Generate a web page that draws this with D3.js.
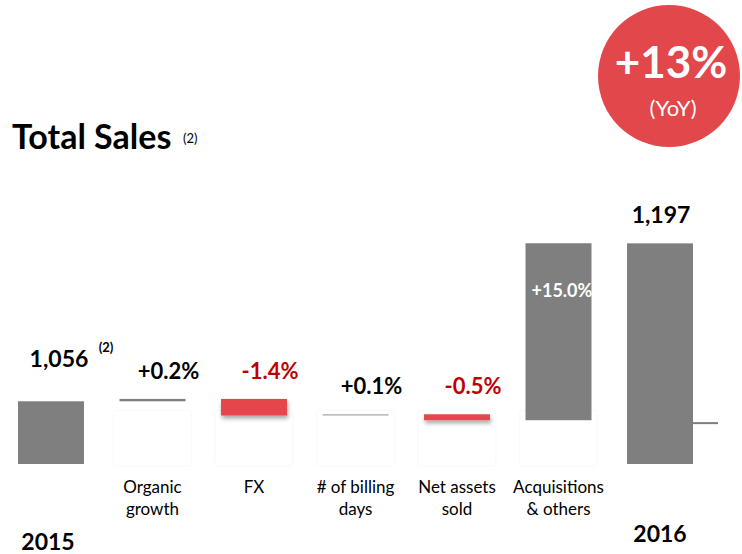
<!DOCTYPE html>
<html><head><meta charset="utf-8">
<script src="https://cdn.jsdelivr.net/npm/d3@7"></script>
<style>
html,body{margin:0;padding:0;background:#fff;}
svg{display:block;font-family:Lato,"Open Sans",sans-serif;}
</style></head>
<body>
<svg id="chart" width="742" height="554"></svg>
<script>
// ---- data ----
const categories = ["2015", "Organic growth", "FX", "# of billing days", "Net assets sold", "Acquisitions & others", "2016"];
const categoryLines = [[], ["Organic", "growth"], ["FX"], ["# of billing", "days"], ["Net assets", "sold"], ["Acquisitions", "& others"], []];
const startValue = 1056;
const endValue = 1197;
const deltas = [2.1, -14.8, 1.1, -5.3, 158.0];
const deltaLabels = ["+0.2%", "-1.4%", "+0.1%", "-0.5%", "+15.0%"];
const totalLabels = ["1,056", "1,197"];
const yearLabels = ["2015", "2016"];
const yoyLabel = "+13%";
const yDomain = [1000, 1200];

const svg = d3.select("#chart");
const gray = "#7f7f7f", red = "#e3474c", redText = "#c00000";

const x = d3.scaleBand().domain(categories).range([18, 693]).paddingInner(0.35).paddingOuter(0);
const y = d3.scaleLinear().domain(yDomain).range([464, 240]);

const defs = svg.append("defs");
const f = defs.append("filter").attr("id", "shadow").attr("x", "-20%").attr("y", "-50%").attr("width", "140%").attr("height", "250%");
f.append("feDropShadow").attr("dx", 1).attr("dy", 3).attr("stdDeviation", 2).attr("flood-color", "#000").attr("flood-opacity", 0.35);

// build waterfall steps
let running = startValue;
const steps = deltas.map((d, i) => {
  const s = {cat: categories[i + 1], from: running, to: running + d, delta: d, label: deltaLabels[i]};
  running += d;
  return s;
});

// faint ghost boxes
svg.append("g").selectAll("rect").data(steps).join("rect")
  .attr("x", d => x(d.cat) - 6).attr("width", x.bandwidth() + 12)
  .attr("y", y(1048)).attr("height", y(yDomain[0]) - y(1048) + 2)
  .attr("rx", 4)
  .attr("fill", "#fff").attr("stroke", "#fafafa").attr("stroke-width", 1.5);

// totals
const totals = [{cat: categories[0], v: startValue, label: totalLabels[0], year: yearLabels[0]},
                {cat: categories[6], v: endValue, label: totalLabels[1], year: yearLabels[1]}];
svg.append("g").selectAll("rect").data(totals).join("rect")
  .attr("x", d => x(d.cat)).attr("width", x.bandwidth())
  .attr("y", d => y(d.v)).attr("height", d => y(yDomain[0]) - y(d.v))
  .attr("fill", gray);

// steps
svg.append("g").selectAll("rect").data(steps).join("rect")
  .attr("x", d => x(d.cat)).attr("width", x.bandwidth())
  .attr("y", d => y(Math.max(d.from, d.to)))
  .attr("height", d => Math.max(1.2, Math.abs(y(d.from) - y(d.to))))
  .attr("fill", d => d.delta < 0 ? red : (Math.abs(d.delta) < 2 ? "#a6a6a6" : gray))
  .attr("filter", d => d.delta < 0 ? "url(#shadow)" : null);

// small stub at right of 2016 bar
svg.append("line")
  .attr("x1", x(categories[6]) + x.bandwidth()).attr("x2", x(categories[6]) + x.bandwidth() + 25)
  .attr("y1", y(1036.5)).attr("y2", y(1036.5))
  .attr("stroke", gray).attr("stroke-width", 2);

// delta labels
const small = steps.filter(d => Math.abs(d.delta) < 50);
svg.append("g").selectAll("text").data(small).join("text")
  .attr("x", d => x(d.cat) + x.bandwidth() / 2 + 16)
  .attr("y", d => y(Math.max(d.from, d.to)) - 20)
  .attr("text-anchor", "middle")
  .attr("font-weight", 700).attr("font-size", 22)
  .attr("fill", d => d.delta < 0 ? redText : "#000")
  .text(d => d.label);

const big = steps.filter(d => Math.abs(d.delta) >= 50);
svg.append("g").selectAll("text").data(big).join("text")
  .attr("x", d => x(d.cat) + 6)
  .attr("y", d => (y(d.from) + y(d.to)) / 2 - 35)
  .attr("font-weight", 700).attr("font-size", 18)
  .attr("fill", "#fff")
  .text(d => d.label);

// total labels
svg.append("text").attr("x", x(categories[0]) + x.bandwidth() / 2 + 8).attr("y", y(startValue) - 34)
  .attr("text-anchor", "middle").attr("font-weight", 700).attr("font-size", 23).text(totals[0].label);
svg.append("text").attr("x", x(categories[0]) + x.bandwidth() / 2 + 55).attr("y", y(startValue) - 49)
  .attr("text-anchor", "middle").attr("font-weight", 700).attr("font-size", 13).text("(2)");
svg.append("text").attr("x", x(categories[6]) + x.bandwidth() / 2 + 1).attr("y", y(endValue) - 20)
  .attr("text-anchor", "middle").attr("font-weight", 700).attr("font-size", 23).text(totals[1].label);

// year labels
svg.append("text").attr("x", x(categories[0]) + x.bandwidth() / 2 - 3).attr("y", 550)
  .attr("text-anchor", "middle").attr("font-weight", 700).attr("font-size", 23).text(yearLabels[0]);
svg.append("text").attr("x", x(categories[6]) + x.bandwidth() / 2).attr("y", 542)
  .attr("text-anchor", "middle").attr("font-weight", 700).attr("font-size", 23).text(yearLabels[1]);

// category labels
const cl = svg.append("g").selectAll("text").data(categories.map((c, i) => ({c, lines: categoryLines[i]})).filter(d => d.lines.length)).join("text")
  .attr("text-anchor", "middle").attr("font-size", 17).attr("fill", "#000");
cl.each(function(d) {
  d3.select(this).selectAll("tspan").data(d.lines).join("tspan")
    .attr("x", x(d.c) + x.bandwidth() / 2)
    .attr("y", (l, i) => 493 + i * 22)
    .text(l => l);
});

// title
const title = svg.append("text").attr("x", 12).attr("y", 149).attr("font-weight", 700).attr("font-size", 34).attr("fill", "#000");
title.append("tspan").text("Total Sales");
svg.append("text").attr("x", 183).attr("y", 143).attr("font-size", 13).attr("fill", "#000").text("(2)");

// YoY badge
svg.append("circle").attr("cx", 669).attr("cy", 76).attr("r", 71).attr("fill", "#e2474b");
svg.append("text").attr("x", 671).attr("y", 78).attr("text-anchor", "middle").attr("font-weight", 700).attr("font-size", 44).attr("fill", "#fff").text(yoyLabel);
svg.append("text").attr("x", 673).attr("y", 116).attr("text-anchor", "middle").attr("font-size", 22).attr("fill", "#fff").text("(YoY)");
</script>
</body></html>
